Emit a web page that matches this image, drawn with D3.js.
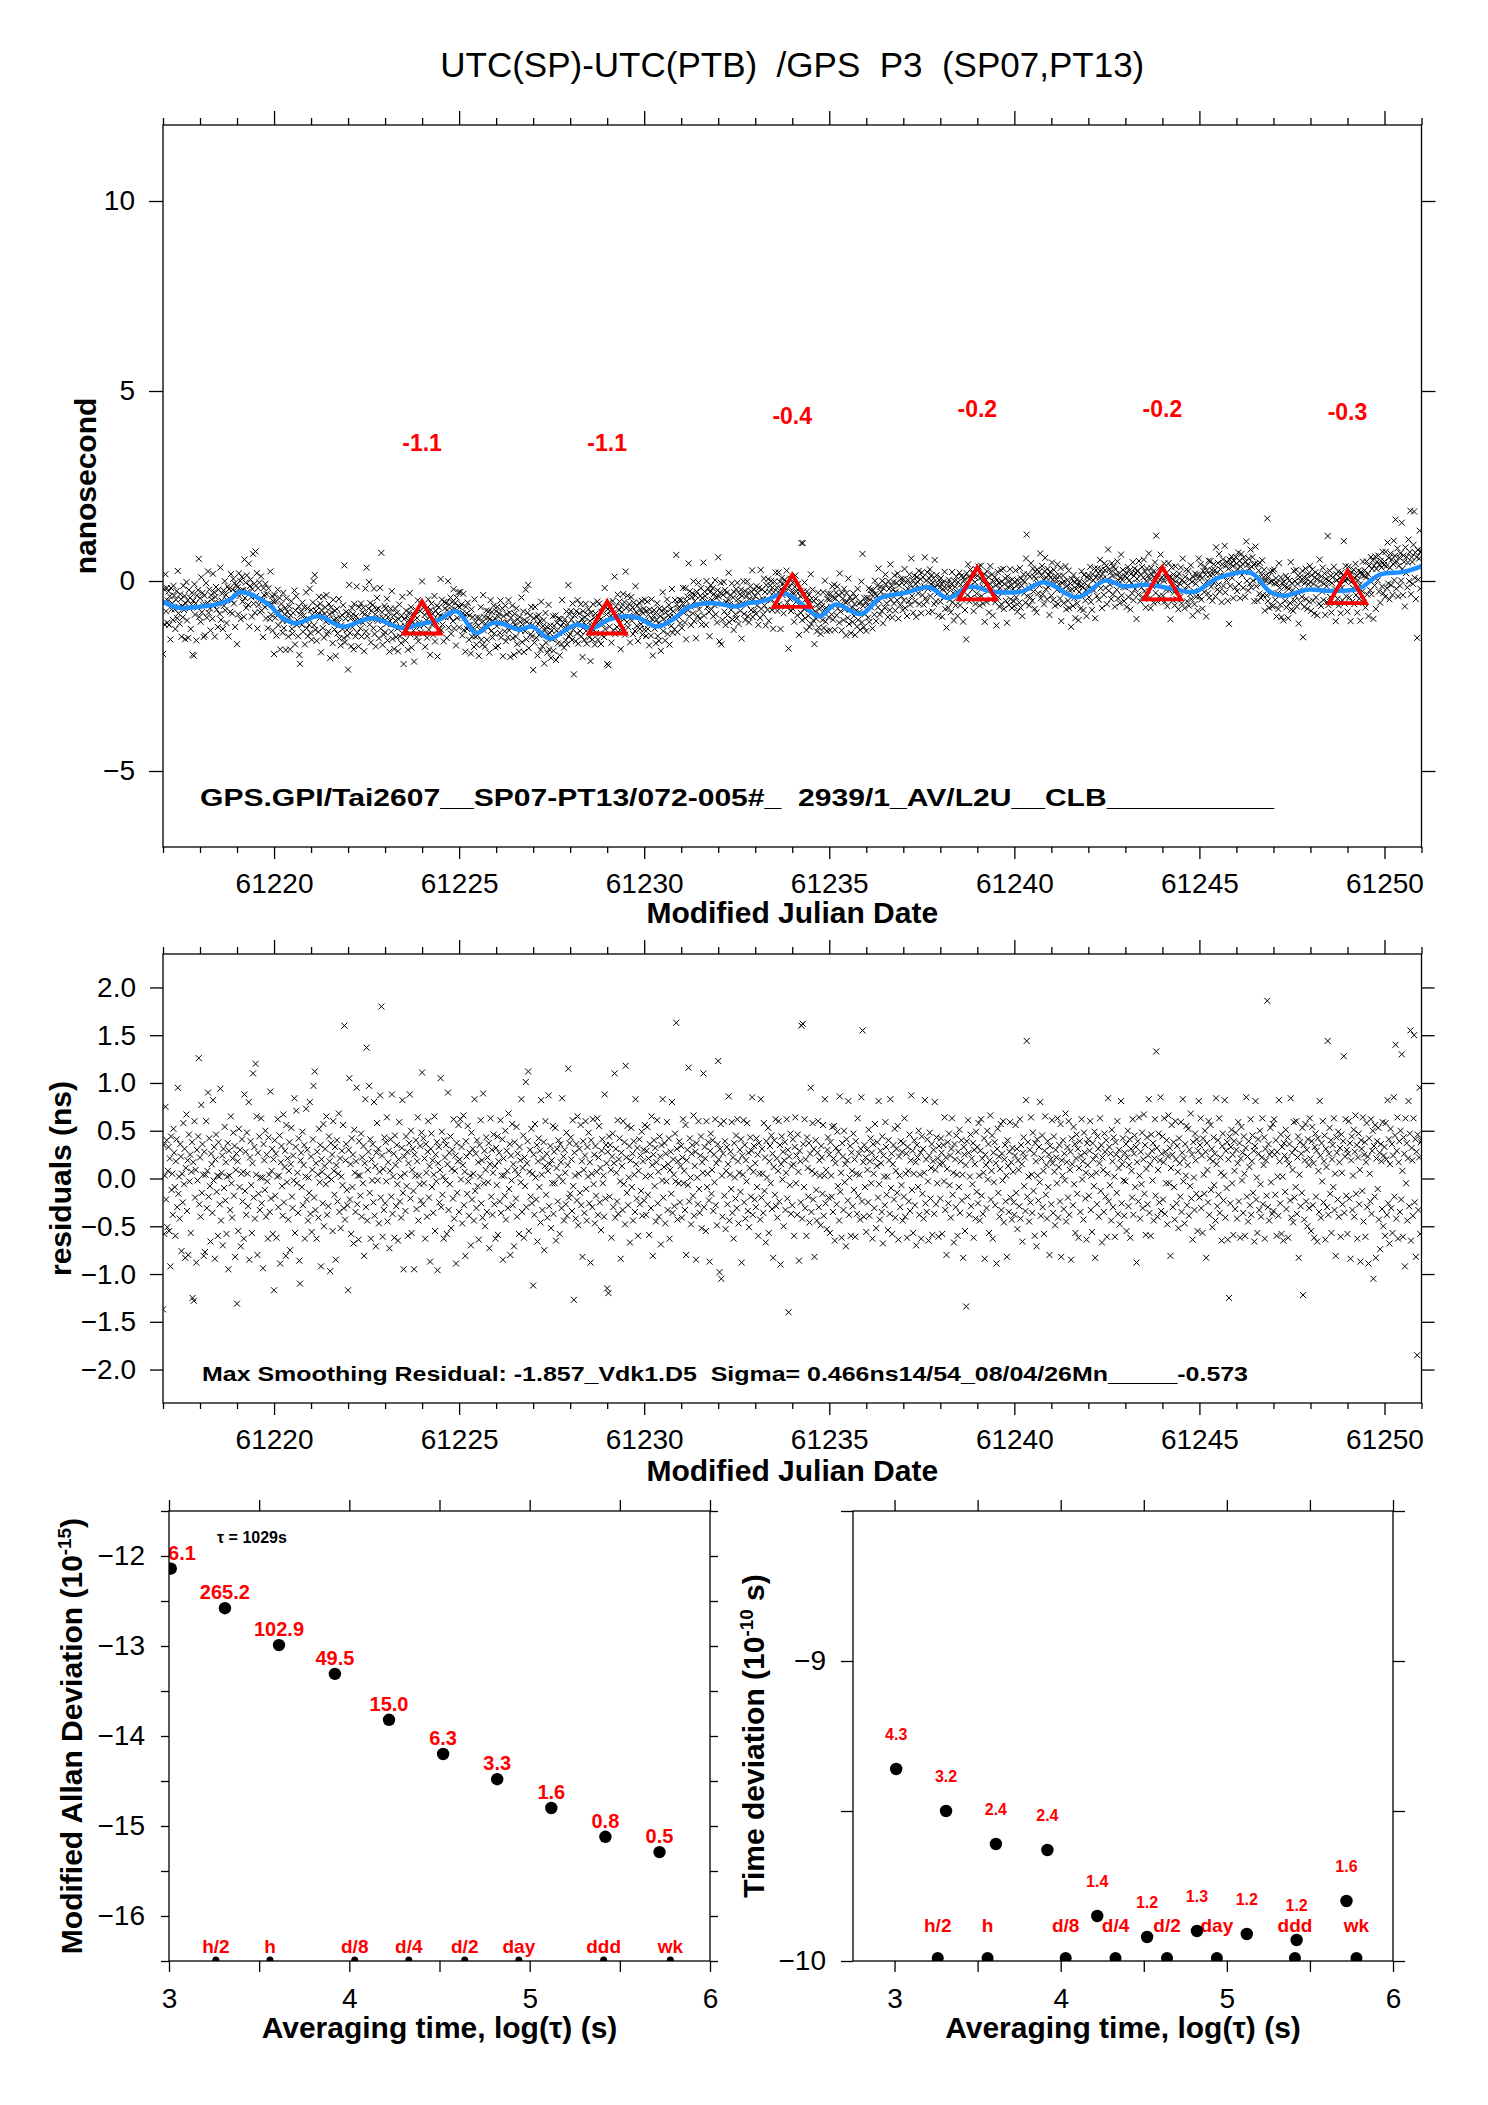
<!DOCTYPE html>
<html>
<head>
<meta charset="utf-8">
<title>UTC(SP)-UTC(PTB) /GPS P3</title>
<script src="https://cdn.jsdelivr.net/npm/d3@7"></script>
<style>
  html, body { margin: 0; padding: 0; background: #fff; }
  svg { display: block; font-family: "Liberation Sans", Arial, Helvetica, sans-serif; }
</style>
</head>
<body>
<svg id="chart" width="1488" height="2105"></svg>
<script>
(() => {
  // ---------- data ----------
  const chartTitle = "UTC(SP)-UTC(PTB)  /GPS  P3  (SP07,PT13)";
  const linkInfo   = "GPS.GPI/Tai2607__SP07-PT13/072-005#_  2939/1_AV/L2U__CLB__________";
  const residInfo  = "Max Smoothing Residual: -1.857_Vdk1.D5  Sigma= 0.466ns14/54_08/04/26Mn_____-0.573";

  const mjdStart = 61217, sampleStep = 1 / 60;   // one sample every 24 min
  const mjdTicks = [61220, 61225, 61230, 61235, 61240, 61245, 61250];

  // smoothed curve (blue)
  const smoothMjd = [61217.00, 61217.47, 61218.07, 61218.49, 61218.79, 61219.09, 61219.39, 61219.88,
    61220.24, 61220.60, 61221.20, 61221.86, 61222.64, 61223.48, 61223.96, 61224.45, 61224.93,
    61225.47, 61225.89, 61226.19, 61226.61, 61226.97, 61227.45, 61227.82, 61228.18, 61228.60,
    61229.02, 61229.50, 61229.86, 61230.34, 61230.82, 61231.18, 61231.78, 61232.51, 61232.82,
    61233.11, 61233.33, 61233.59, 61233.84, 61234.22, 61234.73, 61235.17, 61235.86, 61236.37,
    61237.01, 61237.71, 61238.21, 61238.79, 61239.42, 61240.18, 61240.81, 61241.70, 61242.46,
    61242.97, 61243.60, 61244.24, 61244.87, 61245.51, 61246.40, 61246.90, 61247.28, 61247.92,
    61248.55, 61249.31, 61249.88, 61250.52, 61251.00];
  const smoothNs = [-0.55, -0.71, -0.67, -0.61, -0.50, -0.29, -0.36, -0.64,
    -0.98, -1.11, -0.93, -1.20, -0.98, -1.24, -1.13, -1.02, -0.80,
    -1.37, -1.11, -1.13, -1.28, -1.20, -1.52, -1.32, -1.15, -1.24,
    -1.02, -0.93, -0.98, -1.20, -0.98, -0.70, -0.58, -0.67, -0.58,
    -0.55, -0.49, -0.38, -0.34, -0.58, -0.93, -0.62, -0.87, -0.45,
    -0.32, -0.17, -0.45, -0.15, -0.28, -0.28, -0.03, -0.43, 0.01,
    -0.14, -0.10, -0.20, -0.28, 0.08, 0.21, -0.28, -0.39, -0.23,
    -0.26, -0.20, 0.17, 0.24, 0.39];

  // 5-day means (red triangles)
  const meanMjd = [61224, 61229, 61234, 61239, 61244, 61249];
  const meanNs  = [-1.1, -1.1, -0.4, -0.2, -0.2, -0.3];

  // residuals from the smoothing, in 0.01 ns, one row per day
  const residuals = [
    -137,35,-58,3,75,-22,40,-51,8,33,-55,21,-92,44,-12,5,-38,52,27,-9,-60,18,41,-30,95,-16,2,-42,36,23,-76,5,-25,58,-6,31,-83,11,67,-34,19,-80,46,-3,25,-57,7,38,-125,17,-128,60,-20,9,-88,30,-2,44,126,-27,
    22,-40,77,-15,36,4,-81,28,-77,4,60,-31,8,90,-19,42,-8,-66,26,15,-36,82,-2,33,-84,20,46,-14,3,-60,38,2,-27,94,-44,6,24,-70,31,-10,54,-23,17,-58,2,37,-95,29,3,-33,65,-5,-41,21,48,-18,34,-82,9,26,
    -131,18,-55,52,-9,30,-71,5,41,-24,7,-63,88,-13,28,-38,48,5,-29,80,-85,22,39,-7,-57,16,110,-20,33,-42,120,4,65,-80,27,-16,44,-33,1,63,-26,1,-94,36,19,-12,50,-40,25,-3,-63,43,4,-35,91,-21,8,31,-58,20,
    -117,40,-18,26,-62,2,62,-30,3,45,-89,17,34,-8,-39,67,-25,12,29,-81,56,-4,21,-43,8,38,-75,15,53,-19,-31,24,-2,84,-57,33,71,-5,6,-36,42,-86,-110,19,27,-9,49,-28,14,35,-63,2,73,-22,30,-44,1,-15,80,-37,
    23,-56,9,41,97,-20,112,-33,16,-63,28,4,-41,52,-4,35,-92,20,7,-26,57,-50,13,31,-6,65,-38,2,-29,44,18,-97,37,-1,25,-55,60,8,-17,33,-85,14,40,-24,5,68,-35,21,-52,2,29,-7,56,-31,160,-43,19,36,-12,-28,
    -117,30,105,-22,15,-58,42,-9,25,-68,51,6,-35,18,95,-27,3,-64,39,3,-18,47,-40,22,-5,34,-81,16,83,-30,137,-44,9,28,97,-15,41,-63,20,-2,36,-25,80,-39,13,-71,27,58,-2,31,-47,7,87,-20,180,24,-61,10,-33,43,
    -26,38,-3,64,-45,17,29,-73,8,41,-19,88,-37,2,26,-62,45,14,-29,35,-6,-65,20,59,-24,2,-41,32,82,-15,-95,23,5,-34,44,-8,28,-60,16,37,88,-21,50,-57,9,31,-13,-95,25,3,40,-32,18,64,-44,3,-6,34,-23,48,
    111,-27,42,-5,21,-63,36,6,-40,28,60,-20,13,-87,31,47,-9,19,-36,4,65,-55,25,-3,38,-96,16,33,-25,9,105,-30,49,-17,2,-63,40,22,-2,35,-58,15,90,-33,27,-6,44,-52,10,30,-21,62,-42,8,24,-89,37,-15,18,56,
    -35,20,62,-1,33,-47,14,66,-28,7,-81,39,23,-16,55,-3,-39,27,3,-70,48,-22,31,5,-44,83,-13,26,-31,40,-8,17,-64,35,2,61,-26,19,-41,89,-5,29,-50,9,43,-35,22,-4,37,-73,15,63,-19,30,-38,6,46,-27,13,-63,
    32,-7,44,-59,18,27,-24,61,-36,3,41,-85,21,3,-18,50,-43,29,8,-31,68,-11,36,-80,24,-2,57,-28,15,-71,38,9,-21,54,-40,26,4,-58,33,19,-4,83,-35,11,45,-62,22,-8,101,-30,16,39,112,-55,7,30,-19,52,-26,5,
    -112,25,-38,57,1,-22,35,-66,18,42,-9,29,-46,82,4,-33,21,38,-75,13,60,-17,26,-41,8,87,-29,15,34,-52,19,-5,55,-37,28,-5,53,-65,11,31,-24,40,2,-58,36,17,-31,84,-3,23,-44,30,6,-27,48,-39,14,115,-20,37,
    -16,43,20,-34,61,-8,-127,27,3,-42,36,-23,65,-49,5,31,-15,56,-28,18,-82,39,9,-36,24,60,-11,-44,33,2,48,-26,17,-88,40,5,-30,62,-6,25,-47,34,-18,7,63,-38,22,55,-25,11,-54,29,41,-5,3,-40,88,-21,35,16,
    -115,28,-120,44,-19,35,9,-62,23,47,-30,16,110,-41,31,6,-24,61,-37,20,42,-3,-84,27,13,-33,60,-6,38,-48,118,22,-15,55,-28,1,34,-67,19,53,-9,26,-44,39,4,-35,83,15,-21,32,-60,8,41,-27,24,-13,49,-39,18,30,
    -23,56,2,-38,29,54,-17,21,-59,36,3,-31,65,14,-81,25,40,-8,32,-45,17,61,-26,7,-40,44,23,-69,35,-2,83,-20,12,37,-47,26,-3,59,-33,15,42,-63,9,28,-16,80,-36,20,4,-29,47,-3,163,31,-43,18,-5,39,-25,13,
    34,-41,22,62,-5,8,-33,56,-80,19,30,-7,116,-24,42,1,-48,26,35,-18,66,-39,13,28,-85,37,1,-27,60,-11,-36,24,44,-52,17,6,110,-30,33,21,-55,60,-9,5,38,-23,-87,29,47,-16,9,40,-34,25,-4,62,-28,16,-49,36,
    123,20,-98,31,57,-105,3,-40,26,60,-18,39,-53,8,33,-27,15,86,-44,4,28,-11,59,-36,22,-63,37,1,-21,45,-31,62,18,-47,6,30,-14,41,-88,24,4,61,-25,35,-42,19,-3,58,-34,27,-51,11,43,-19,29,85,-38,7,34,-22,
    16,-30,42,-9,25,-60,37,5,-43,83,-20,31,5,-36,58,-13,22,-67,39,1,-27,53,-57,18,34,-5,45,-32,26,-83,12,40,-17,62,-29,21,-41,8,60,-24,35,-90,15,44,-1,28,-50,19,38,-33,6,62,-21,30,-140,23,-7,47,-37,13,
    -28,41,15,-60,33,64,-5,24,-38,46,7,-86,29,18,-25,160,-42,162,36,-9,62,-31,20,-60,43,11,-19,37,-46,26,95,-35,8,58,-22,31,-82,5,40,-12,-44,27,60,-30,19,3,-49,34,22,-16,56,-39,3,83,-26,9,-53,30,43,-20,
    25,-57,38,3,-19,54,-35,21,55,-65,16,32,-27,49,-8,28,-44,86,-14,6,-62,37,23,-33,50,-4,15,-71,41,19,-23,81,-38,1,34,-60,27,8,-29,47,-12,20,-61,39,5,-37,63,-18,26,4,-43,31,85,-24,155,17,-40,35,-9,22,
    -56,30,9,-25,51,-39,18,42,-5,27,-63,36,5,-31,57,21,-52,13,38,-20,81,-6,-43,29,16,-35,44,-68,24,2,-28,59,33,-17,2,-54,40,19,-37,83,-10,26,-58,15,35,-22,52,-41,8,31,-15,55,-64,23,3,-30,39,-7,28,-44,
    37,-19,63,-40,5,26,-62,33,8,-24,46,-34,19,87,-12,29,-57,5,40,-28,17,-70,35,22,-9,50,-38,4,27,-63,44,-16,31,-42,6,82,-26,20,-35,41,-3,-65,24,48,-21,11,36,-59,18,30,-37,80,9,-27,43,-5,21,-61,34,15,
    -21,42,27,-58,16,35,-3,64,-33,22,-80,10,38,-26,47,-7,24,-41,31,63,-17,6,-67,36,20,-30,45,4,-60,28,-9,51,-36,18,40,-23,4,-83,33,25,-55,14,-134,39,-19,61,27,-38,2,46,-29,21,-6,37,-62,30,15,-42,49,-14,
    33,-26,58,3,-44,29,62,-18,21,-37,6,42,-84,25,14,-31,50,-1,36,-57,19,66,-22,8,45,-63,27,-4,38,-28,16,-89,31,52,-15,23,-40,10,57,-33,26,-2,60,-46,20,35,-24,3,-82,40,13,-35,28,59,-20,17,-43,32,7,-25,
    -38,24,56,-15,31,-53,19,9,-29,62,-42,35,15,-66,27,43,-8,22,-34,82,144,-19,38,2,-45,30,-25,64,4,-36,48,-13,26,-60,37,18,-71,41,3,-23,33,-4,80,-39,21,45,-30,8,-58,29,65,-17,14,-42,39,-9,25,-80,34,20,
    -27,61,16,-36,44,7,-49,30,22,-5,63,-41,12,35,-24,57,-82,19,3,40,-32,26,-2,68,-45,17,33,-20,60,-38,9,28,-85,42,15,-28,54,-6,36,-57,21,46,-16,31,-62,11,39,-35,24,62,-1,18,-43,48,27,-21,6,-64,37,14,
    41,-18,29,60,-33,3,-56,37,20,-8,49,-83,24,6,-27,44,31,-40,16,63,-13,35,-67,22,9,-35,47,28,-19,40,-61,5,84,-24,33,-7,26,-44,51,18,-30,43,2,-61,38,25,-15,60,-37,11,30,-48,21,81,-26,15,42,-2,-39,27,
    -3,36,-55,22,50,-29,14,41,-62,31,8,-20,62,-38,26,45,-9,33,-88,17,39,-24,64,3,-42,28,-6,48,-31,20,67,-16,35,-59,10,43,-27,24,83,-36,15,-60,46,29,-2,37,-44,21,62,-18,133,32,-40,9,47,-25,19,85,-34,26,
    44,-22,17,63,-37,28,-5,40,-48,23,66,-5,32,-81,11,56,25,-30,38,-9,-43,60,20,-26,34,7,-52,42,16,-19,59,-35,27,83,-3,21,-47,36,3,55,-28,14,52,-39,30,-8,68,-21,25,-64,38,1,-33,47,19,-16,41,-55,29,81,
    -20,35,63,-31,24,-57,42,4,-16,50,28,-83,37,9,-25,60,-38,21,56,-12,31,-51,18,43,-7,26,-44,84,15,-29,40,-17,63,-36,22,6,-65,34,47,-23,3,82,-41,29,-10,38,-64,20,-125,44,-26,33,51,-5,25,-59,39,8,-32,48,
    30,-42,16,59,-24,37,-62,21,54,-2,27,-36,44,5,-60,32,85,-19,23,-45,39,12,-28,62,-38,18,45,-15,29,-66,34,81,-22,1,-57,41,26,-33,50,-6,-40,22,63,-27,14,43,-63,31,19,-18,186,-30,36,-44,25,53,-4,28,-37,57,
    -34,62,25,-17,40,-60,28,2,-39,82,18,-26,46,-58,33,2,-65,37,24,-14,51,-32,20,43,-62,15,36,-23,84,-41,27,9,-46,59,-20,31,-9,60,-37,22,44,-83,4,38,-29,26,-15,53,-122,35,-43,19,57,-24,30,-50,41,14,-31,63,
    21,-55,39,54,-28,16,-62,33,47,-19,29,-66,42,8,-35,81,24,-41,37,-3,60,-25,18,45,-64,31,12,-30,144,-38,26,53,-16,40,-57,20,35,-9,63,-33,5,-81,43,27,-22,49,-40,17,32,-61,46,6,-27,39,128,-36,23,62,-18,30,
    -58,26,60,-21,37,-84,19,44,-33,3,51,-40,28,66,-16,35,-63,22,47,-27,9,-87,40,31,-13,64,-45,25,38,-61,17,58,-30,23,-89,42,5,-24,62,-37,29,50,-105,34,-19,56,-83,21,39,-11,53,-43,27,-74,36,18,-32,59,-50,24,
    33,-60,58,20,-38,82,-26,41,-68,15,52,-31,36,-57,24,85,-19,45,140,-42,29,64,-63,17,39,-35,50,-22,130,8,-61,43,26,-92,63,-5,37,-44,21,81,-29,47,155,-65,32,19,-39,63,150,-25,41,-82,28,-185,46,-33,22,95,-58,38,
    40
  ];

  // stability analysis (log10 of averaging time in s)
  const logTau   = [3.01, 3.31, 3.61, 3.92, 4.22, 4.52, 4.82, 5.12, 5.42, 5.72];
  const mdevLog  = [-12.14, -12.58, -12.99, -13.31, -13.82, -14.20, -14.48, -14.80, -15.12, -15.29];
  const mdevText = ["726.1", "265.2", "102.9", "49.5", "15.0", "6.3", "3.3", "1.6", "0.8", "0.5"];
  const tdevLog  = [-9.36, -9.50, -9.61, -9.63, -9.85, -9.92, -9.90, -9.91, -9.93, -9.80];
  const tdevText = ["4.3", "3.2", "2.4", "2.4", "1.4", "1.2", "1.3", "1.2", "1.2", "1.6"];
  const spanLog  = [3.26, 3.56, 4.03, 4.33, 4.64, 4.94, 5.41, 5.78];
  const spanText = ["h/2", "h", "d/8", "d/4", "d/2", "day", "ddd", "wk"];

  // ---------- layout ----------
  const RED = "#ff0000", BLUE = "#1e90ff";
  const FONT_TICK = 28, FONT_AXIS = 30;
  const svg = d3.select("#chart");
  const defs = svg.append("defs");

  const P1 = { l: 163, r: 1421.5, t: 125, b: 847 };
  const P2 = { l: 163, r: 1421.5, t: 954, b: 1403 };
  const P3 = { l: 169, r: 710, t: 1511, b: 1961 };
  const P4 = { l: 853, r: 1393, t: 1511, b: 1961 };

  const x1 = d3.scaleLinear().domain([61217, 61251]).range([P1.l, P1.r]);
  const y1 = d3.scaleLinear().domain([-7, 12]).range([P1.b, P1.t]);
  const x2 = d3.scaleLinear().domain([61217, 61251]).range([P2.l, P2.r]);
  const y2 = d3.scaleLinear().domain([-2.35, 2.35]).range([P2.b, P2.t]);
  const x3 = d3.scaleLinear().domain([3, 6]).range([P3.l, P3.r]);
  const y3 = d3.scaleLinear().domain([-16.5, -11.5]).range([P3.b, P3.t]);
  const x4 = d3.scaleLinear().domain([2.75, 6]).range([P4.l, P4.r]);
  const y4 = d3.scaleLinear().domain([-10, -8.5]).range([P4.b, P4.t]);

  const clip = (id, p) => defs.append("clipPath").attr("id", id)
    .append("rect").attr("x", p.l).attr("y", p.t).attr("width", p.r - p.l).attr("height", p.b - p.t);
  clip("c1", P1); clip("c2", P2); clip("c3", P3); clip("c4", P4);

  const frame = (p) => svg.append("rect")
    .attr("x", p.l).attr("y", p.t).attr("width", p.r - p.l).attr("height", p.b - p.t)
    .attr("fill", "none").attr("stroke", "#000").attr("stroke-width", 1.3);

  function axis(gen, scale, values, size, pos, fmt, pad) {
    const a = svg.append("g").attr("transform", pos)
      .call(gen(scale).tickValues(values).tickSize(size).tickSizeOuter(0)
        .tickPadding(pad == null ? 3 : pad).tickFormat(fmt || (() => "")));
    a.attr("font-family", null).attr("font-size", null);
    a.select(".domain").remove();
    a.selectAll(".tick line").attr("stroke", "#000").attr("stroke-width", 1.3);
    a.selectAll(".tick text").attr("fill", "#000").attr("font-size", FONT_TICK);
    return a;
  }

  function text(x, y, str, size, opts = {}) {
    const t = svg.append("text").attr("x", x).attr("y", y)
      .attr("font-size", size).attr("fill", opts.fill || "#000")
      .attr("text-anchor", opts.anchor || "middle")
      .attr("font-weight", opts.bold ? "bold" : null)
      .style("white-space", "pre")
      .text(str);
    if (opts.len) t.attr("textLength", opts.len).attr("lengthAdjust", "spacingAndGlyphs");
    return t;
  }

  // rotated bold axis title; parts = [[string, isSuperscript], ...]
  function vtext(x, y, parts, size) {
    const t = svg.append("text").attr("transform", `translate(${x},${y}) rotate(-90)`)
      .attr("text-anchor", "middle").attr("font-weight", "bold").attr("font-size", size)
      .style("white-space", "pre");
    const lift = size * 0.38;
    let raised = false;
    parts.forEach(([s, sup]) => {
      const ts = t.append("tspan").text(s);
      if (sup) { ts.attr("font-size", size * 0.63).attr("dy", -lift); raised = true; }
      else if (raised) { ts.attr("dy", lift); raised = false; }
    });
    return t;
  }

  const xMark = "M-3,-3L3,3M-3,3L3,-3";
  const fmtInt = d3.format("d");
  const mjdMinor = d3.range(61217, 61252).filter(d => d % 5 !== 0);

  // sample times; raw value = smoothing + residual
  const smoothAt = d3.scaleLinear().domain(smoothMjd).range(smoothNs);
  const samples = residuals.map((r, i) => {
    const t = mjdStart + i * sampleStep;
    return { t, res: r / 100, raw: smoothAt(t) + r / 100 };
  });

  // ---------- title ----------
  text((P1.l + P1.r) / 2, 77, chartTitle, 35);

  // ---------- panel 1: raw data ----------
  const g1 = svg.append("g").attr("clip-path", "url(#c1)");
  g1.selectAll("path.pt").data(samples).join("path").attr("class", "pt")
    .attr("d", xMark).attr("transform", d => `translate(${x1(d.t)},${y1(d.raw)})`)
    .attr("fill", "none").attr("stroke", "#000").attr("stroke-width", 1);
  g1.append("path")
    .datum(smoothMjd.map((m, i) => [m, smoothNs[i]]))
    .attr("d", d3.line().x(d => x1(d[0])).y(d => y1(d[1])).curve(d3.curveCatmullRom))
    .attr("fill", "none").attr("stroke", BLUE).attr("stroke-width", 4.5);
  svg.selectAll("path.mean").data(meanMjd).join("path").attr("class", "mean")
    .attr("d", d3.symbol(d3.symbolTriangle, 595))
    .attr("transform", (d, i) => `translate(${x1(d)},${y1(meanNs[i])})`)
    .attr("fill", "none").attr("stroke", RED).attr("stroke-width", 3.8);
  svg.selectAll("text.mean").data(meanMjd).join("text").attr("class", "mean")
    .attr("x", d => x1(d)).attr("y", (d, i) => y1(meanNs[i]) - 172)
    .attr("text-anchor", "middle").attr("font-weight", "bold").attr("font-size", 23)
    .attr("fill", RED).text((d, i) => meanNs[i].toFixed(1));

  frame(P1);
  axis(d3.axisTop, x1, mjdTicks, 14, `translate(0,${P1.t})`);
  axis(d3.axisTop, x1, mjdMinor, 7, `translate(0,${P1.t})`);
  axis(d3.axisBottom, x1, mjdTicks, 12, `translate(0,${P1.b})`, fmtInt, 14);
  axis(d3.axisBottom, x1, mjdMinor, 6, `translate(0,${P1.b})`);
  axis(d3.axisLeft, y1, [-5, 0, 5, 10], 14, `translate(${P1.l},0)`, fmtInt, 14);
  axis(d3.axisRight, y1, [-5, 0, 5, 10], 14, `translate(${P1.r},0)`);

  text(200, 806, linkInfo, 24, { anchor: "start", bold: true, len: 1074 });
  text((P1.l + P1.r) / 2, 923, "Modified Julian Date", FONT_AXIS, { bold: true });
  vtext(96, (P1.t + P1.b) / 2, [["nanosecond"]], FONT_AXIS);

  // ---------- panel 2: residuals ----------
  const g2 = svg.append("g").attr("clip-path", "url(#c2)");
  g2.selectAll("path.pt").data(samples).join("path").attr("class", "pt")
    .attr("d", xMark).attr("transform", d => `translate(${x2(d.t)},${y2(d.res)})`)
    .attr("fill", "none").attr("stroke", "#000").attr("stroke-width", 1);

  frame(P2);
  const resTicks = d3.range(-2, 2.01, 0.5);
  axis(d3.axisTop, x2, mjdTicks, 14, `translate(0,${P2.t})`);
  axis(d3.axisTop, x2, mjdMinor, 7, `translate(0,${P2.t})`);
  axis(d3.axisBottom, x2, mjdTicks, 12, `translate(0,${P2.b})`, fmtInt, 14);
  axis(d3.axisBottom, x2, mjdMinor, 6, `translate(0,${P2.b})`);
  axis(d3.axisLeft, y2, resTicks, 13, `translate(${P2.l},0)`, d3.format(".1f"), 14);
  axis(d3.axisRight, y2, resTicks, 13, `translate(${P2.r},0)`);

  text(202, 1381, residInfo, 20.5, { anchor: "start", bold: true, len: 1046 });
  text((P2.l + P2.r) / 2, 1481, "Modified Julian Date", FONT_AXIS, { bold: true });
  vtext(71, (P2.t + P2.b) / 2, [["residuals (ns)"]], FONT_AXIS);

  // ---------- panel 3: modified Allan deviation ----------
  const halfX = d3.range(3, 6.01, 0.5);
  const intFmt = v => Number.isInteger(v) ? fmtInt(v) : "";

  const g3 = svg.append("g").attr("clip-path", "url(#c3)");
  g3.selectAll("circle.span").data(spanLog).join("circle").attr("class", "span")
    .attr("cx", d => x3(d)).attr("cy", P3.b - 1).attr("r", 3.5).attr("fill", "#000");
  g3.selectAll("text.span").data(spanLog).join("text").attr("class", "span")
    .attr("x", d => x3(d)).attr("y", P3.b - 8.5).attr("text-anchor", "middle")
    .attr("font-weight", "bold").attr("font-size", 19).attr("fill", RED)
    .text((d, i) => spanText[i]);
  g3.selectAll("circle.pt").data(logTau).join("circle").attr("class", "pt")
    .attr("cx", d => x3(d)).attr("cy", (d, i) => y3(mdevLog[i])).attr("r", 6.2).attr("fill", "#000");
  g3.selectAll("text.val").data(logTau).join("text").attr("class", "val")
    .attr("x", d => x3(d)).attr("y", (d, i) => y3(mdevLog[i]) - 9).attr("text-anchor", "middle")
    .attr("font-weight", "bold").attr("font-size", 20).attr("fill", RED)
    .text((d, i) => mdevText[i]);
  text(x3(3.46), P3.t + 32, "τ = 1029s", 16, { bold: true });

  frame(P3);
  const mdevTicks = d3.range(-16.5, -11.49, 0.5);
  axis(d3.axisTop, x3, halfX, 11, `translate(0,${P3.t})`);
  axis(d3.axisBottom, x3, halfX, 11, `translate(0,${P3.b})`, intFmt, 16);
  axis(d3.axisLeft, y3, mdevTicks, 8, `translate(${P3.l},0)`, intFmt, 16);
  axis(d3.axisRight, y3, mdevTicks, 8, `translate(${P3.r},0)`);

  text((P3.l + P3.r) / 2, 2038, "Averaging time, log(τ) (s)", FONT_AXIS, { bold: true });
  vtext(82, (P3.t + P3.b) / 2, [["Modified Allan Deviation (10"], ["-15", true], [")"]], FONT_AXIS);

  // ---------- panel 4: time deviation ----------
  const g4 = svg.append("g").attr("clip-path", "url(#c4)");
  g4.selectAll("circle.span").data(spanLog).join("circle").attr("class", "span")
    .attr("cx", d => x4(d)).attr("cy", P4.b - 3).attr("r", 6).attr("fill", "#000");
  g4.selectAll("text.span").data(spanLog).join("text").attr("class", "span")
    .attr("x", d => x4(d)).attr("y", P4.b - 29.5).attr("text-anchor", "middle")
    .attr("font-weight", "bold").attr("font-size", 19).attr("fill", RED)
    .text((d, i) => spanText[i]);
  g4.selectAll("circle.pt").data(logTau).join("circle").attr("class", "pt")
    .attr("cx", d => x4(d)).attr("cy", (d, i) => y4(tdevLog[i])).attr("r", 6.2).attr("fill", "#000");
  g4.selectAll("text.val").data(logTau).join("text").attr("class", "val")
    .attr("x", d => x4(d)).attr("y", (d, i) => y4(tdevLog[i]) - 29).attr("text-anchor", "middle")
    .attr("font-weight", "bold").attr("font-size", 16).attr("fill", RED)
    .text((d, i) => tdevText[i]);

  frame(P4);
  const tdevTicks = d3.range(-10, -8.49, 0.5);
  axis(d3.axisTop, x4, halfX, 11, `translate(0,${P4.t})`);
  axis(d3.axisBottom, x4, halfX, 11, `translate(0,${P4.b})`, intFmt, 16);
  axis(d3.axisLeft, y4, tdevTicks, 12, `translate(${P4.l},0)`, intFmt, 15);
  axis(d3.axisRight, y4, tdevTicks, 12, `translate(${P4.r},0)`);

  text((P4.l + P4.r) / 2, 2038, "Averaging time, log(τ) (s)", FONT_AXIS, { bold: true });
  vtext(764, (P4.t + P4.b) / 2, [["Time deviation (10"], ["-10", true], [" s)"]], FONT_AXIS);
})();
</script>
</body>
</html>
